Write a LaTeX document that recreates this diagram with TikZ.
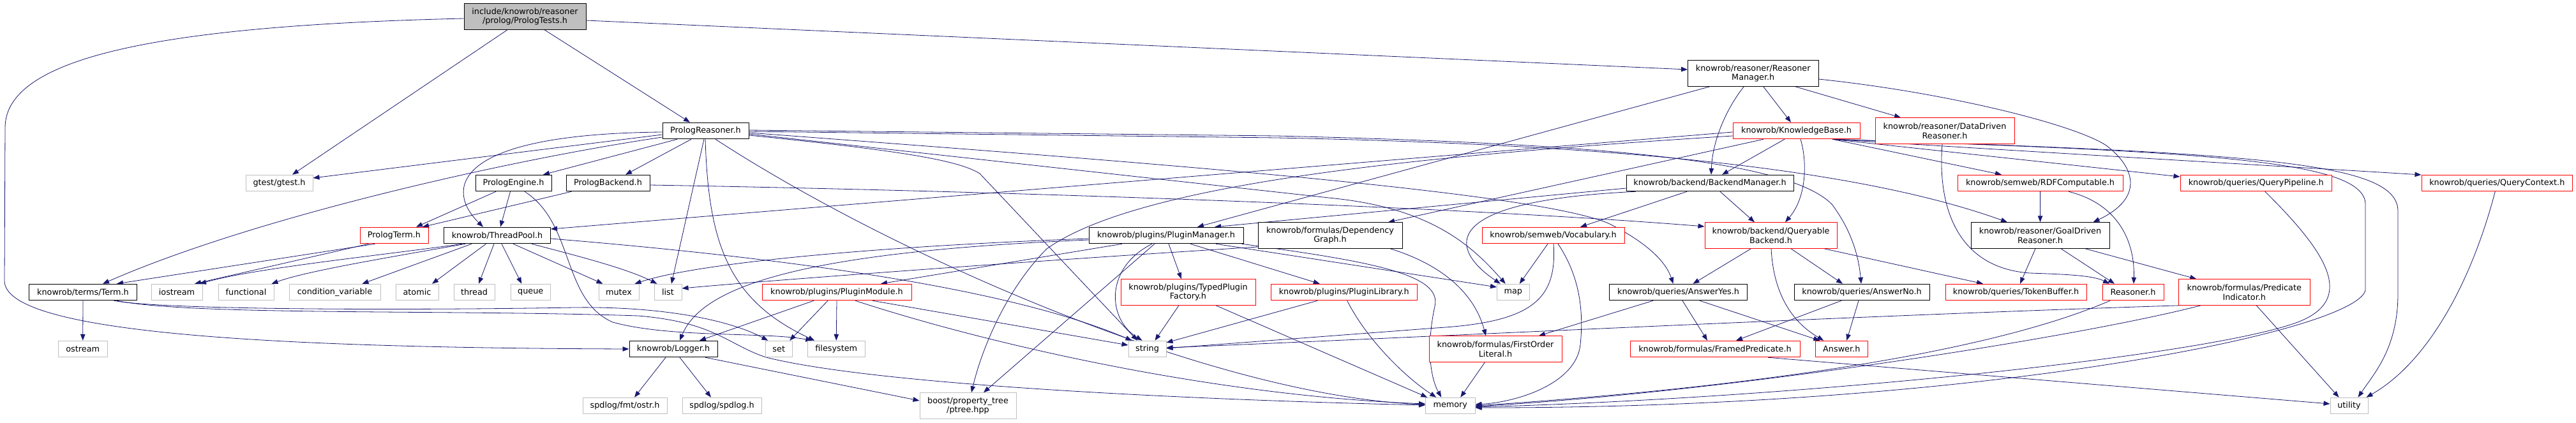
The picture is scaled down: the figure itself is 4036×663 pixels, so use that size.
\documentclass[tikz,border=0pt]{standalone}
\usepackage{fontspec}
\setmainfont{DejaVu Sans}
\usetikzlibrary{arrows.meta}
\pgfdeclarelayer{bg}
\pgfdeclarelayer{edges}
\pgfsetlayers{bg,edges,main}
\definecolor{edgec}{RGB}{25,25,112}
\definecolor{greyb}{RGB}{191,191,191}
\newcommand{\dfont}{\fontsize{12.8}{14.5}\selectfont}
\begin{document}
\begin{tikzpicture}[x=1pt,y=-1pt,
  box/.style={draw, fill=white, line width=1pt, inner sep=0pt, align=center, font=\dfont, minimum height=25.5pt},
  blk/.style={box, draw=black},
  redb/.style={box, draw=red},
  gry/.style={box, draw=greyb},
  two/.style={minimum height=40.5pt},
  e/.style={draw=edgec, line width=0.8pt, -{Triangle[length=10pt,width=7.5pt]}}
]
\useasboundingbox (0,0) rectangle (4036,663);
\begin{pgfonlayer}{bg}
\fill[white] (0,0) rectangle (4036,663);
\end{pgfonlayer}

% row 0
\node[blk, two, fill=greyb, minimum width=191pt] (T) at (822.5,26) {include/knowrob/reasoner\\/prolog/PrologTests.h};
% row 1
\node[blk, two, minimum width=204.5pt] (RM) at (2746.75,115) {knowrob/reasoner/Reasoner\\Manager.h};
% row 2
\node[blk, minimum width=135pt] (PR) at (1105.5,205) {PrologReasoner.h};
\node[redb, minimum width=199pt] (KB) at (2814.5,205) {knowrob/KnowledgeBase.h};
\node[redb, two, minimum width=218pt] (DD) at (3047,205) {knowrob/reasoner/DataDriven\\Reasoner.h};
% row 3
\node[gry, minimum width=105pt] (GT) at (437.5,287) {gtest/gtest.h};
\node[blk, minimum width=119pt] (PE) at (804.5,287) {PrologEngine.h};
\node[blk, minimum width=131pt] (PB) at (952.5,287) {PrologBackend.h};
\node[blk, minimum width=262pt] (BM) at (2679,287) {knowrob/backend/BackendManager.h};
\node[redb, minimum width=259pt] (RDF) at (3196.5,287) {knowrob/semweb/RDFComputable.h};
\node[redb, minimum width=237.5pt] (QP) at (3534.75,287) {knowrob/queries/QueryPipeline.h};
\node[redb, minimum width=236.5pt] (QC) at (3912.25,287) {knowrob/queries/QueryContext.h};
% row 4
\node[redb, minimum width=107pt] (PT) at (617.5,369) {PrologTerm.h};
\node[blk, minimum width=167pt] (TP) at (779,369) {knowrob/ThreadPool.h};
\node[blk, minimum width=242pt] (PM) at (1827,369) {knowrob/plugins/PluginManager.h};
\node[blk, two, minimum width=226pt] (DG) at (2084,369) {knowrob/formulas/Dependency\\Graph.h};
\node[redb, minimum width=223pt] (VOC) at (2433.5,369) {knowrob/semweb/Vocabulary.h};
\node[redb, two, minimum width=207pt] (QB) at (2774.5,369) {knowrob/backend/Queryable\\Backend.h};
\node[blk, two, minimum width=217pt] (GD) at (3196.5,369) {knowrob/reasoner/GoalDriven\\Reasoner.h};
% row 5
\node[blk, minimum width=168.5pt] (TERM) at (130,458) {knowrob/terms/Term.h};
\node[gry, minimum width=80pt] (IOS) at (277,458) {iostream};
\node[gry, minimum width=87pt] (FUN) at (385.5,458) {functional};
\node[gry, minimum width=143pt] (CV) at (524.5,458) {condition\_variable};
\node[gry, minimum width=67pt] (ATO) at (653.5,458) {atomic};
\node[gry, minimum width=64pt] (THR) at (743,458) {thread};
\node[gry, minimum width=62.5pt] (QUE) at (831.25,458) {queue};
\node[gry, minimum width=63pt] (MUT) at (969.5,458) {mutex};
\node[gry, minimum width=43pt] (LIST) at (1046.5,458) {list};
\node[redb, minimum width=234pt] (PMOD) at (1311,458) {knowrob/plugins/PluginModule.h};
\node[redb, two, minimum width=211pt] (TPF) at (1861.5,458) {knowrob/plugins/TypedPlugin\\Factory.h};
\node[redb, minimum width=228.5pt] (PLIB) at (2105.75,458) {knowrob/plugins/PluginLibrary.h};
\node[gry, minimum width=50.5pt] (MAP) at (2370.75,458) {map};
\node[blk, minimum width=216pt] (AY) at (2629.5,458) {knowrob/queries/AnswerYes.h};
\node[blk, minimum width=212pt] (AN) at (2917,458) {knowrob/queries/AnswerNo.h};
\node[redb, minimum width=221pt] (TB) at (3158.5,458) {knowrob/queries/TokenBuffer.h};
\node[redb, minimum width=96pt] (REA) at (3342,458) {Reasoner.h};
\node[redb, two, minimum width=205.5pt] (PI) at (3516.25,458) {knowrob/formulas/Predicate\\Indicator.h};
% row 6
\node[gry, minimum width=76.5pt] (OST) at (129.75,547) {ostream};
\node[blk, minimum width=138pt] (LOG) at (1055,547) {knowrob/Logger.h};
\node[gry, minimum width=42.5pt] (SET) at (1220.25,547) {set};
\node[gry, minimum width=89.5pt] (FS) at (1310.25,547) {filesystem};
\node[gry, minimum width=59pt] (STR) at (1797.5,547) {string};
\node[redb, two, minimum width=208pt] (FOL) at (2343,547) {knowrob/formulas/FirstOrder\\Literal.h};
\node[redb, minimum width=266pt] (FP) at (2687,547) {knowrob/formulas/FramedPredicate.h};
\node[redb, minimum width=81.5pt] (ANS) at (2885.25,547) {Answer.h};
% row 7
\node[gry, minimum width=132pt] (SPF) at (979,636) {spdlog/fmt/ostr.h};
\node[gry, minimum width=124pt] (SPS) at (1131,636) {spdlog/spdlog.h};
\node[gry, two, minimum width=151pt] (PTREE) at (1516.5,636) {boost/property\_tree\\/ptree.hpp};
\node[gry, minimum width=77.5pt] (MEM) at (2272.25,636) {memory};
\node[gry, minimum width=59pt] (UTIL) at (3680.5,636) {utility};

\begin{pgfonlayer}{edges}
% Tests
\draw[e] ([xshift=-27.5]T.south) -- ([xshift=20.5]GT.north);
\draw[e] ([xshift=30.5]T.south) -- ([xshift=-24.5]PR.north);
\draw[e] ([yshift=-6]T.east) -- ([yshift=6]RM.west);
\draw[e] ([yshift=-3]T.west) .. controls (250,40) and (8,90) .. (8,200) -- (7,440) .. controls (7,520) and (400,545) .. (LOG.west);
% ReasonerManager
\draw[e] ([xshift=16]RM.south) -- ([xshift=-8.5]KB.north);
\draw[e] ([xshift=66]RM.south) -- ([xshift=-69]DD.north);
\draw[e] ([xshift=-14.5]RM.south) .. controls (2705,170) and (2683,220) .. ([xshift=2]BM.north);
\draw[e] ([xshift=-68]RM.south) -- ([xshift=49]PM.north);
\draw[e] ([yshift=-9]RM.east) .. controls (3050,145) and (3250,195) .. (3300,228) .. controls (3345,262) and (3360,310) .. ([xshift=83]GD.north);
% KnowledgeBase
\draw[e] ([xshift=-18.5]KB.south) -- ([xshift=19]BM.north);
\draw[e] ([xshift=6.5]KB.south) .. controls (2832,255) and (2830,310) .. ([xshift=22.5]QB.north);
\draw[e] ([xshift=-51.5]KB.south) -- ([xshift=91]DG.north);
\draw[e] ([yshift=-2]KB.west) -- ([yshift=10]TP.east);
\draw[e] ([yshift=-8]KB.west) .. controls (2200,245) and (1780,290) .. (1640,390) .. controls (1580,450) and (1540,540) .. ([xshift=5.5]PTREE.north);
\draw[e] ([xshift=56.5]KB.south) -- ([xshift=-60.5]RDF.north);
\draw[e] ([xshift=56.5]KB.south) -- ([yshift=10]QP.west);
\draw[e] ([xshift=56.5]KB.south) .. controls (3300,245) and (3600,262) .. ([yshift=13]QC.west);
\draw[e] ([xshift=56.5]KB.south) .. controls (3550,240) and (3755,255) .. (3757,330) -- (3757,460) .. controls (3757,545) and (3720,585) .. ([xshift=14]UTIL.north);
\draw[e] ([xshift=56.5]KB.south) .. controls (3450,238) and (3705,250) .. (3706,320) -- (3706,455) .. controls (3690,520) and (3100,640) .. ([yshift=-3]MEM.east);
% right part
\draw[e] ([xshift=14]QP.south) .. controls (3650,400) and (3690,470) .. (3600,505) .. controls (3450,560) and (2800,625) .. ([yshift=-2]MEM.east);
\draw[e] ([xshift=-3]QC.south) .. controls (3870,450) and (3800,570) .. ([xshift=27]UTIL.north);
\draw[e] ([xshift=-4]DD.south) .. controls (3035,330) and (3070,420) .. (3180,428) .. controls (3240,430) and (3280,432) .. ([xshift=-37]REA.north);
\draw[e] (RDF.south) -- (GD.north);
\draw[e] ([xshift=44.5]RDF.south) .. controls (3320,320) and (3345,380) .. ([xshift=1]REA.north);
\draw[e] ([xshift=-7.5]GD.south) -- ([xshift=6.5]TB.north);
\draw[e] ([xshift=32.5]GD.south) -- ([xshift=-29]REA.north);
\draw[e] ([xshift=70.5]GD.south) -- ([xshift=-75]PI.north);
\draw[e] ([xshift=-31]QB.south) -- ([xshift=23]AY.north);
\draw[e] ([xshift=0.5]QB.south) .. controls (2778,450) and (2800,500) .. ([xshift=-28]ANS.north);
\draw[e] ([xshift=31.5]QB.south) -- ([xshift=-30]AN.north);
\draw[e] ([xshift=83.5]QB.south) -- ([xshift=-51.5]TB.north);
\draw[e] ([xshift=-39.5]AY.south) -- ([xshift=68]FOL.north);
\draw[e] ([xshift=6.5]AY.south) -- ([xshift=-12]FP.north);
\draw[e] ([xshift=33.5]AY.south) -- ([xshift=-34]ANS.north);
\draw[e] ([xshift=-32]AN.south) -- ([xshift=33]FP.north);
\draw[e] ([xshift=-5]AN.south) -- ([xshift=8]ANS.north);
\draw[e] ([xshift=83]FP.south) -- ([yshift=3]UTIL.west);
\draw[e] ([xshift=-16.5]FOL.south) -- ([xshift=16]MEM.north);
\draw[e] ([xshift=-36]REA.south) .. controls (3100,560) and (2700,610) .. (MEM.east);
\draw[e] ([xshift=-68]PI.south) .. controls (3250,530) and (2700,615) .. ([yshift=-1]MEM.east);
\draw[e] ([xshift=-100]PI.south) .. controls (2900,495) and (2200,530) .. ([yshift=2]STR.east);
\draw[e] ([xshift=19]PI.south) -- ([xshift=-16]UTIL.north);
% Vocabulary / BackendManager
\draw[e] ([xshift=-8.5]VOC.south) -- ([xshift=10]MAP.north);
\draw[e] ([xshift=0.5]VOC.south) .. controls (2440,470) and (2400,505) .. (2250,514) -- ([yshift=1]STR.east);
\draw[e] ([xshift=7.5]VOC.south) .. controls (2480,440) and (2480,500) .. (2476,540) .. controls (2470,600) and (2380,630) .. ([yshift=2]MEM.east);
\draw[e] ([xshift=-36]BM.south) -- ([xshift=42.5]VOC.north);
\draw[e] ([xshift=16]BM.south) -- ([xshift=-25.5]QB.north);
\draw[e] ([xshift=-116]BM.south) .. controls (2250,315) and (2270,390) .. ([xshift=-20]MAP.north);
\draw[e] ([yshift=-8]BM.west) -- ([xshift=76]PM.north);
% PrologReasoner
\draw[e] ([yshift=-6]PR.west) -- ([yshift=8]GT.east);
\draw[e] ([yshift=-10]PR.west) .. controls (800,250) and (400,340) .. ([xshift=31]TERM.north);
\draw[e] ([xshift=-44.5]PR.south) -- ([xshift=46.5]PE.north);
\draw[e] ([xshift=-22.5]PR.south) -- ([xshift=27.5]PB.north);
\draw[e] ([yshift=-2]PR.west) .. controls (700,210) and (700,300) .. ([xshift=-22]TP.north);
\draw[e] ([xshift=-2.5]PR.south) -- ([xshift=5.5]LIST.north);
\draw[e] ([xshift=-0.5]PR.south) .. controls (1110,380) and (1140,470) .. ([xshift=-34]FS.north);
\draw[e] ([xshift=15.5]PR.south) .. controls (1400,400) and (1900,620) .. ([yshift=2]MEM.west);
\draw[e] ([yshift=-7]PR.east) .. controls (1400,235) and (1500,250) .. (1535,272) -- ([xshift=-15.5]STR.north);
\draw[e] ([yshift=-5]PR.east) -- (2100,312) .. controls (2250,330) and (2310,390) .. ([xshift=-12]MAP.north);
\draw[e] ([yshift=-3]PR.east) .. controls (1800,255) and (2400,300) .. (2520,350) .. controls (2580,380) and (2610,410) .. ([xshift=-8]AY.north);
\draw[e] ([yshift=1]PR.east) -- (2000,213) .. controls (2500,225) and (2800,250) .. (2870,320) .. controls (2900,360) and (2912,400) .. ([xshift=-1]AN.north);
\draw[e] ([yshift=-1]PR.east) -- (2000,216) .. controls (2500,226) and (2900,260) .. ([xshift=-51.5]GD.north);
% Prolog engine / backend / term
\draw[e] ([xshift=-27.5]PE.south) -- ([xshift=34.5]PT.north);
\draw[e] ([xshift=-57]PB.south) -- ([xshift=44.5]PT.north);
\draw[e] ([xshift=-5]PE.south) -- ([xshift=5]TP.north);
\draw[e] ([xshift=17.5]PE.south) .. controls (900,350) and (880,470) .. (960,505) .. controls (1050,530) and (1200,520) .. ([xshift=-38]FS.north);
\draw[e] ([yshift=-3]PB.east) .. controls (1600,300) and (2300,325) .. ([yshift=14]QB.west);
\draw[e] ([xshift=-40]PT.south) -- ([xshift=28]IOS.north);
\draw[e] ([xshift=-30]PT.south) -- ([xshift=53]TERM.north);
% ThreadPool
\draw[e] ([xshift=-55]TP.south) .. controls (600,400) and (400,420) .. ([xshift=36]IOS.north);
\draw[e] ([xshift=-50]TP.south) .. controls (600,405) and (480,425) .. ([xshift=40]FUN.north);
\draw[e] ([xshift=-40]TP.south) -- ([xshift=43]CV.north);
\draw[e] ([xshift=-17.5]TP.south) -- ([xshift=23.5]ATO.north);
\draw[e] ([xshift=-5]TP.south) -- ([xshift=7]THR.north);
\draw[e] ([xshift=7]TP.south) -- ([xshift=-14]QUE.north);
\draw[e] ([xshift=25]TP.south) -- ([xshift=-25]MUT.north);
\draw[e] ([xshift=54]TP.south) .. controls (900,400) and (980,420) .. ([xshift=-17]LIST.north);
\draw[e] ([yshift=-5]TP.east) .. controls (1300,410) and (1600,460) .. ([xshift=-24]STR.north);
% DependencyGraph
\draw[e] ([yshift=-18]DG.west) .. controls (1600,410) and (1200,440) .. ([yshift=6]LIST.east);
\draw[e] ([xshift=94]DG.south) .. controls (2260,415) and (2310,460) .. ([xshift=-15]FOL.north);
% PluginManager
\draw[e] ([yshift=-5]PM.west) .. controls (1400,385) and (1100,410) .. ([xshift=25]MUT.north);
\draw[e] ([yshift=-7]PM.west) .. controls (1250,395) and (1100,450) .. ([xshift=10]LOG.north);
\draw[e] ([xshift=-69]PM.south) -- ([xshift=69]PMOD.north);
\draw[e] ([xshift=-22]PM.south) .. controls (1730,420) and (1735,500) .. ([xshift=-8]STR.north);
\draw[e] ([xshift=-18]PM.south) -- ([xshift=24.5]PTREE.north);
\draw[e] ([xshift=4]PM.south) -- ([xshift=-10.5]TPF.north);
\draw[e] ([xshift=38]PM.south) -- ([xshift=-38]PLIB.north);
\draw[e] ([xshift=78]PM.south) -- ([yshift=8]MAP.west);
\draw[e] ([xshift=-3]PM.south east) .. controls (2150,410) and (2260,430) .. (2248,480) .. controls (2235,540) and (2240,590) .. ([xshift=-14]MEM.north);
% PluginModule etc.
\draw[e] ([xshift=-36]PMOD.south) -- ([xshift=41]LOG.north);
\draw[e] ([xshift=-14]PMOD.south) -- ([xshift=17]SET.north);
\draw[e] (PMOD.south) -- (FS.north);
\draw[e] ([xshift=56]PMOD.south) -- ([yshift=6]STR.west);
\draw[e] ([xshift=29]PMOD.south) .. controls (1550,540) and (1900,620) .. ([yshift=3]MEM.west);
\draw[e] ([xshift=-14.5]TPF.south) -- ([xshift=12]STR.north);
\draw[e] ([xshift=43.5]TPF.south) -- ([xshift=-36]MEM.north);
\draw[e] ([xshift=-41.5]PLIB.south) -- ([yshift=10]STR.east);
\draw[e] ([xshift=5]PLIB.south) .. controls (2140,530) and (2200,590) .. ([xshift=-22]MEM.north);
% Term
\draw[e] (TERM.south) -- (OST.north);
\draw[e] ([xshift=48.5]TERM.south) .. controls (250,485) and (600,487) .. (900,482) .. controls (1050,480) and (1150,505) .. ([xshift=-17]SET.north);
\draw[e] ([xshift=53]TERM.south) .. controls (300,495) and (700,485) .. (1000,495) .. controls (1120,505) and (1140,540) .. (1200,560) .. controls (1400,610) and (2000,630) .. ([yshift=1]MEM.west);
% Logger
\draw[e] ([xshift=-12]LOG.south) -- ([xshift=15]SPF.north);
\draw[e] ([xshift=10]LOG.south) -- ([xshift=-17]SPS.north);
\draw[e] ([xshift=50]LOG.south) -- ([yshift=8]PTREE.west);
\end{pgfonlayer}
\end{tikzpicture}
\end{document}
